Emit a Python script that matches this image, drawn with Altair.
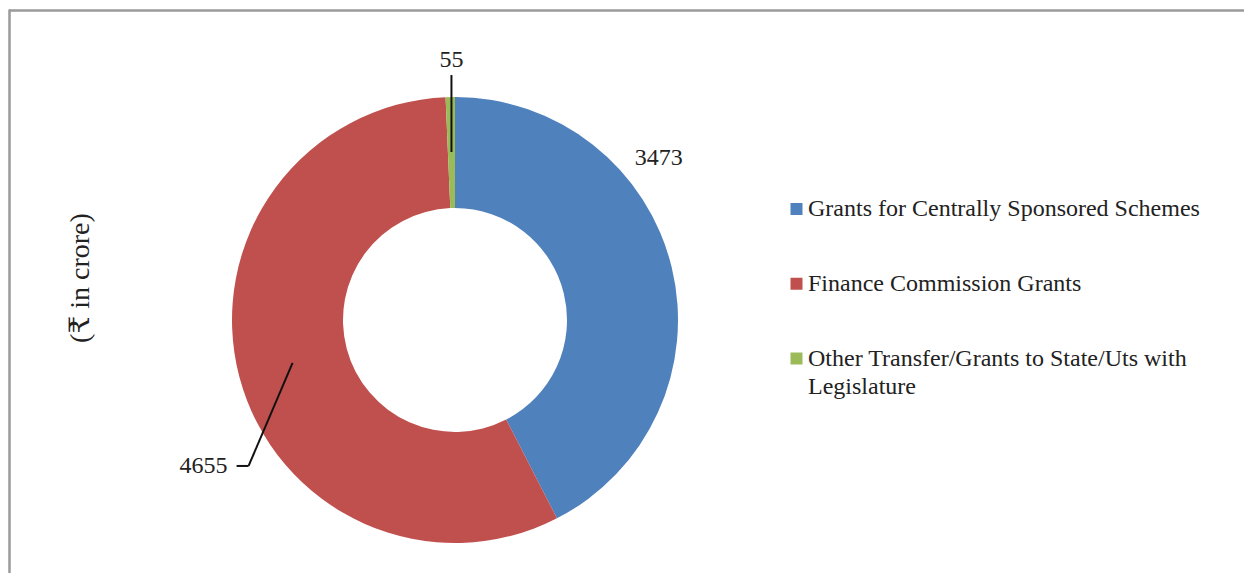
import altair as alt
import pandas as pd

# ---- data ----
categories = [
    "Grants for Centrally Sponsored Schemes",
    "Finance Commission Grants",
    "Other Transfer/Grants to State/Uts with Legislature",
]
values = [3473, 4655, 55]
value_labels = ["3473", "4655", "55"]
legend_labels = [
    "Grants for Centrally Sponsored Schemes",
    "Finance Commission Grants",
    "Other Transfer/Grants to State/Uts with\nLegislature",
]
colors = ["#4F81BD", "#C0504D", "#9BBB59"]
unit_title = "(₹ in crore)"

df = pd.DataFrame({
    "category": categories,
    "value": values,
    "label": value_labels,
    "legend": legend_labels,
    "order": [0, 1, 2],
})

# ---- layout / style ----
W, H = 1236, 565
CX, CY = 447, 312
R_OUT, R_IN = 223, 112
R_MID = 168
FONT = "'Liberation Serif', 'Times New Roman', 'DejaVu Serif', serif"
FS = 24
BORDER = "#9a9a9a"
INK = "#222222"

base = alt.Chart(df)

color_enc = alt.Color("category:N", scale=alt.Scale(domain=categories, range=colors), legend=None)

arc = base.mark_arc(outerRadius=R_OUT, innerRadius=R_IN).encode(
    theta=alt.Theta("value:Q", stack=True),
    color=color_enc,
    order=alt.Order("order:Q"),
    x=alt.value(CX),
    y=alt.value(CY),
)

angles = (
    base.transform_joinaggregate(total="sum(value)")
    .transform_window(cum="sum(value)", sort=[alt.SortField("order")], frame=[None, 0])
    .transform_calculate(mid="PI*(2*datum.cum - datum.value)/datum.total")
    .transform_calculate(
        ax=f"{CX} + {R_MID}*sin(datum.mid)",
        ay=f"{CY} - {R_MID}*cos(datum.mid)",
    )
)

# "55" label with vertical leader line
small = angles.transform_filter("datum.order == 2").transform_calculate(
    oy="datum.ay - 77",
    ty="datum.ay - 92",
)
lead_small = small.mark_rule(color="#111111", strokeWidth=2).encode(
    x=alt.X("ax:Q", scale=None), y=alt.Y("ay:Q", scale=None),
    x2="ax:Q", y2="oy:Q",
)
text_small = small.mark_text(font=FONT, fontSize=FS, color=INK, align="center", baseline="middle").encode(
    x=alt.X("ax:Q", scale=None), y=alt.Y("ty:Q", scale=None), text="label:N",
)

# "4655" label with bent leader line
big = angles.transform_filter("datum.order == 1").transform_calculate(
    ex="datum.ax - 44", ey="datum.ay + 103",
).transform_calculate(hx="datum.ex - 12", tx="datum.ex - 21")
lead_big1 = big.mark_rule(color="#111111", strokeWidth=2).encode(
    x=alt.X("ax:Q", scale=None), y=alt.Y("ay:Q", scale=None),
    x2="ex:Q", y2="ey:Q",
)
lead_big2 = big.mark_rule(color="#111111", strokeWidth=2).encode(
    x=alt.X("ex:Q", scale=None), y=alt.Y("ey:Q", scale=None),
    x2="hx:Q", y2="ey:Q",
)
text_big = big.mark_text(font=FONT, fontSize=FS, color=INK, align="right", baseline="middle").encode(
    x=alt.X("tx:Q", scale=None), y=alt.Y("ey:Q", scale=None), text="label:N",
)

# "3473" label (no leader)
blue = angles.transform_filter("datum.order == 0").transform_calculate(
    tx=f"{CX} + {R_OUT}*sin(datum.mid) - 13",
    ty=f"{CY} - {R_OUT}*cos(datum.mid) - 110",
)
text_blue = blue.mark_text(font=FONT, fontSize=FS, color=INK, align="center", baseline="middle").encode(
    x=alt.X("tx:Q", scale=None), y=alt.Y("ty:Q", scale=None), text="label:N",
)

# custom legend
leg = base.transform_calculate(ly="201 + 74.75*datum.order")
leg_sym = leg.mark_square(size=144, opacity=1).encode(
    x=alt.value(788.5), y=alt.Y("ly:Q", scale=None), color=color_enc,
)
leg_txt = leg.mark_text(font=FONT, fontSize=FS, color=INK, align="left", baseline="middle",
                        lineBreak="\n", lineHeight=28).encode(
    x=alt.value(800), y=alt.Y("ly:Q", scale=None), text="legend:N",
)

# rotated unit title
title = alt.Chart(pd.DataFrame({"t": [unit_title]})).mark_text(
    font=FONT, fontSize=28, color=INK, angle=270, align="center", baseline="middle"
).encode(x=alt.value(73), y=alt.value(270), text="t:N")

# frame (top and left border)
frame_top = alt.Chart(pd.DataFrame({"k": [0]})).mark_rule(color=BORDER, strokeWidth=2.5).encode(
    x=alt.value(1), x2=alt.value(W), y=alt.value(2.5)
)
frame_left = alt.Chart(pd.DataFrame({"k": [0]})).mark_rule(color=BORDER, strokeWidth=2.5).encode(
    x=alt.value(1.5), y=alt.value(1.5), y2=alt.value(H)
)

chart = alt.layer(
    frame_top, frame_left, arc, lead_small, text_small, lead_big1, lead_big2, text_big, text_blue,
    leg_sym, leg_txt, title,
).properties(
    width=W, height=H, padding=0, autosize=alt.AutoSizeParams(type="none"), background="white"
).configure_view(stroke=None)

chart.save("out.html", embed_options={"renderer": "svg", "actions": False})
